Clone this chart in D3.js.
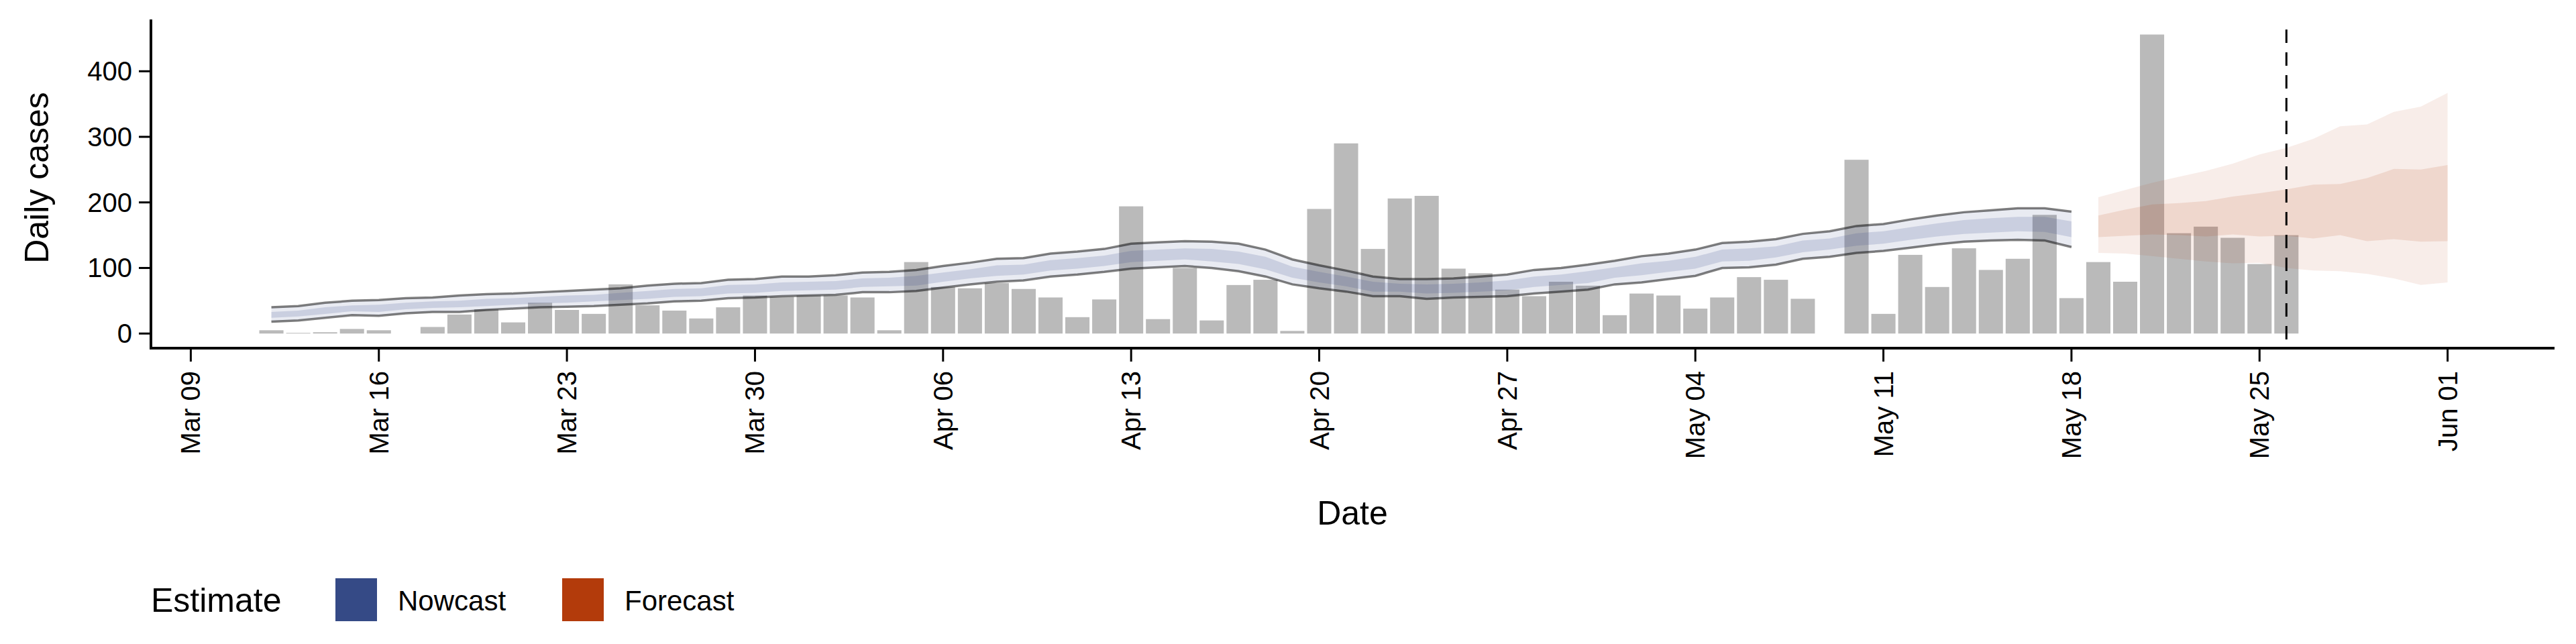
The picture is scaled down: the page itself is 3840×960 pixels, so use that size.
<!DOCTYPE html>
<html><head><meta charset="utf-8">
<script src="https://cdn.jsdelivr.net/npm/d3@7"></script>
<style>body{margin:0;background:#fff}svg text{font-family:"Liberation Sans",Arial,sans-serif}</style>
</head><body><svg id="c" width="3840" height="960"></svg>
<script>
const caseStart = "2020-03-12";
const cases = [5,1,2,7,5,0,10,29,37,17,47,36,30,75,43,35,23,40,58,56,58,58,55,
  5,109,71,69,77,68,55,25,52,194,22,100,20,74,82,4,190,290,129,206,210,99,92,67,57,79,73,
  28,61,58,38,55,86,82,53,0,265,30,120,71,130,97,114,181,54,109,79,456,153,163,146,106,150];
const nowStart = "2020-03-12";
const nowU90 = [40,42,47,50,51,54,55,58,60,61,63,65,67,69,73,76,77,82,83,87,87,89,93,94,97,103,108,114,115,122,125,129,137,139,141,140,137,128,113,104,96,87,83,83,84,87,90,97,100,105,111,118,122,128,138,140,144,152,156,164,167,174,180,185,188,191,191,186];
const nowL90 = [18,20,24,28,27,31,33,33,36,38,40,41,42,44,46,49,50,54,55,57,58,59,63,63,65,70,75,79,81,87,90,94,99,101,103,100,95,87,75,69,64,57,57,53,55,56,57,61,64,67,75,78,83,88,100,101,105,114,117,123,126,131,136,140,142,143,142,132];
const nowU50 = [33,35,40,43,44,47,49,50,53,54,56,58,59,62,65,68,69,74,75,78,79,80,84,85,88,93,98,104,105,112,115,119,126,128,130,129,125,117,102,94,87,79,76,75,76,78,81,87,90,95,101,107,111,117,128,130,133,142,145,153,156,162,168,173,176,178,178,171];
const nowL50 = [24,26,30,34,33,37,39,40,42,44,46,47,49,51,53,56,57,61,62,65,66,67,71,72,73,79,84,88,90,96,99,103,109,111,113,110,106,98,85,78,72,64,64,61,62,64,66,71,74,77,85,89,94,99,110,111,116,124,128,134,137,143,148,152,154,156,155,147];
const fcStart = "2020-05-19";
const fcU90 = [208,219,230,239,248,259,273,283,297,316,319,338,346,367];
const fcU50 = [180,189,197,199,202,209,214,220,227,228,237,251,250,257];
const fcL50 = [147,149,151,150,148,151,148,149,145,150,141,144,140,141];
const fcL90 = [123,122,118,114,110,107,108,100,96,95,91,84,74,78];
const tickDates = ["2020-03-09","2020-03-16","2020-03-23","2020-03-30","2020-04-06","2020-04-13","2020-04-20","2020-04-27","2020-05-04","2020-05-11","2020-05-18","2020-05-25","2020-06-01"];
const yTicks = [0,100,200,300,400];
const nowcastDate = "2020-05-26";
const legendItems = ["Nowcast","Forecast"];
const legendColors = ["#354a86","#b33b0b"];

const parse = d3.utcParse("%Y-%m-%d");
const day = 864e5;
const addDays = (s,i)=> new Date(parse(s).getTime()+i*day);
const svg = d3.select("#c");
const x = d3.scaleUtc().domain([parse("2020-03-09"),parse("2020-06-01")]).range([284.4,3648.6]);
const y = d3.scaleLinear().domain([-22.3,479]).range([519,29]);
const bw = 40.05*0.9;

// bars
svg.append("g").selectAll("rect").data(cases).join("rect")
  .attr("x",(v,i)=>x(addDays(caseStart,i))-bw/2).attr("width",bw)
  .attr("y",v=>y(v)).attr("height",v=>y(0)-y(v)).attr("fill","#bababa");

function band(lo,hi,start,fill,op){
  const data = lo.map((v,i)=>({d:addDays(start,i),lo:v,hi:hi[i]}));
  svg.append("path").datum(data).attr("fill",fill).attr("fill-opacity",op)
    .attr("d",d3.area().x(p=>x(p.d)).y0(p=>y(p.lo)).y1(p=>y(p.hi)));
}
band(nowL90,nowU90,nowStart,"#354a86",0.11);
band(nowL50,nowU50,nowStart,"#354a86",0.17);
band(fcL90,fcU90,fcStart,"#b33b0b",0.09);
band(fcL50,fcU50,fcStart,"#b33b0b",0.12);
[nowU90,nowL90].forEach(arr=>{
  svg.append("path").datum(arr).attr("fill","none").attr("stroke","#000").attr("stroke-opacity",0.5)
    .attr("stroke-width",3.5).attr("d",d3.line().x((v,i)=>x(addDays(nowStart,i))).y(v=>y(v)));
});

// dashed line
svg.append("line").attr("x1",x(parse(nowcastDate))).attr("x2",x(parse(nowcastDate)))
  .attr("y1",44).attr("y2",519).attr("stroke","#000").attr("stroke-width",3).attr("stroke-dasharray","20,14");

// axes
const xa = svg.append("g").attr("transform","translate(0,519)");
xa.append("line").attr("x1",225).attr("x2",3808).attr("stroke","#000").attr("stroke-width",4);
const fmt = d3.utcFormat("%b %d");
tickDates.forEach(t=>{
  const px = x(parse(t));
  xa.append("line").attr("x1",px).attr("x2",px).attr("y1",0).attr("y2",20).attr("stroke","#000").attr("stroke-width",3);
  xa.append("text").attr("transform",`translate(${px+14},34) rotate(-90)`).attr("text-anchor","end")
    .attr("font-size",40).attr("fill","#000").text(fmt(parse(t)));
});
const ya = svg.append("g");
ya.append("line").attr("x1",225).attr("x2",225).attr("y1",29).attr("y2",521).attr("stroke","#000").attr("stroke-width",4);
yTicks.forEach(t=>{
  ya.append("line").attr("x1",207).attr("x2",225).attr("y1",y(t)).attr("y2",y(t)).attr("stroke","#000").attr("stroke-width",3);
  ya.append("text").attr("x",197).attr("y",y(t)+14).attr("text-anchor","end").attr("font-size",40).text(t);
});
svg.append("text").attr("x",2016).attr("y",782).attr("text-anchor","middle").attr("font-size",50).text("Date");
svg.append("text").attr("transform","translate(72,265) rotate(-90)").attr("text-anchor","middle").attr("font-size",50).text("Daily cases");

// legend
svg.append("text").attr("x",225).attr("y",912).attr("font-size",50).text("Estimate");
const lx = [500,838];
legendItems.forEach((n,i)=>{
  svg.append("rect").attr("x",lx[i]).attr("y",862).attr("width",62).attr("height",64).attr("fill",legendColors[i]);
  svg.append("text").attr("x",lx[i]+93).attr("y",910).attr("font-size",42).text(n);
});
</script></body></html>
